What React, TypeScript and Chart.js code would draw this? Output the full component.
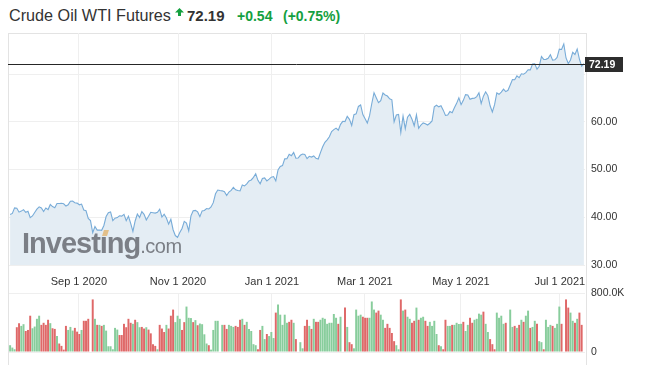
import React, { useEffect, useRef } from 'react';
import { Chart, registerables } from 'chart.js';

Chart.register(...registerables);

// ---------- header text ----------
const TITLE = 'Crude Oil WTI Futures';
const LAST_LABEL = '72.19';
const CHANGE = '+0.54';
const CHANGE_PCT = '(+0.75%)';

// ---------- daily series (Jul 17 2020 -> Jul 16 2021, trading days incl. holidays) ----------
const prices: number[] = [
  40.59,
  40.81, 41.96, 41.90, 41.07, 41.29,
  41.60, 41.04, 41.27, 39.92, 40.27,
  41.01, 41.70, 42.19, 41.95, 41.22,
  41.94, 41.61, 42.67, 42.24, 42.01,
  42.89, 42.89, 42.93, 42.82, 42.34,
  42.62, 43.35, 43.39, 43.04, 42.97,
  42.61, 42.76, 41.51, 41.37, 39.77,
  39.30, 36.76, 38.05, 37.30, 37.33,
  37.26, 38.28, 40.16, 40.97, 41.11,
  39.31, 39.80, 39.93, 40.31, 40.25,
  40.60, 39.29, 40.22, 38.72, 37.05,
  39.22, 40.67, 39.95, 41.19, 40.60,
  39.43, 40.20, 41.04, 40.96, 40.88,
  41.06, 41.70, 40.03, 40.64, 39.85,
  38.56, 39.57, 37.39, 36.17, 35.79,
  36.81, 37.66, 39.15, 38.79, 37.14,
  40.29, 41.36, 41.45, 41.12, 40.13,
  41.34, 41.43, 41.82, 41.74, 42.15,
  43.06, 44.91, 45.71, 45.60, 45.53,
  45.34, 44.55, 45.28, 45.64, 46.26,
  45.76, 45.60, 45.52, 46.78, 46.57,
  46.99, 47.62, 47.82, 48.36, 49.10,
  47.74, 47.02, 48.12, 48.23,
  47.62, 48.00, 48.40, 48.52,
  47.62, 49.93, 50.63, 50.83, 52.24,
  52.25, 53.21, 52.91, 53.57, 52.36,
  52.40, 52.98, 53.24, 53.13, 52.27,
  52.77, 52.61, 52.85, 52.34, 52.20,
  53.55, 54.76, 55.69, 56.23, 56.85,
  57.97, 58.36, 58.68, 58.24, 59.47,
  60.10, 60.05, 61.14, 60.52, 59.24,
  61.49, 61.67, 63.22, 63.53, 61.50,
  60.64, 59.75, 61.28, 63.83, 66.09,
  65.05, 64.01, 64.44, 66.02, 65.61,
  65.39, 64.80, 64.60, 60.00, 61.42,
  61.55, 57.76, 61.18, 58.56, 60.97,
  61.56, 60.55, 59.16, 61.45,
  58.65, 59.33, 59.77, 59.60, 59.32,
  59.70, 60.18, 63.15, 63.46, 63.13,
  63.38, 62.44, 61.35, 61.43, 62.14,
  61.91, 62.94, 63.86, 65.01, 63.58,
  64.49, 65.69, 65.63, 64.71, 64.90,
  64.92, 65.28, 66.08, 63.82, 65.37,
  66.27, 65.49, 63.36, 62.05, 63.58,
  66.05, 65.76, 66.21, 66.85, 66.32,
  66.60, 67.72, 68.83, 68.81, 69.62,
  69.23, 70.05, 69.96, 70.29, 70.91,
  70.88, 72.12, 72.15, 71.04, 71.64,
  73.66, 73.06, 73.08, 73.30, 74.05,
  72.91, 72.98, 73.47, 75.23, 75.16,
  76.30, 73.37, 72.20, 72.94, 74.56,
  74.10, 75.25, 73.13, 71.65, 72.19,
];

// volume in thousands
const volumesK: number[] = [
  92, 60, 37, 336, 390, 354, 377, 285, 299, 492,
  322, 345, 450, 492, 368, 396, 368, 437, 391, 322,
  313, 216, 115, 83, 32, 354, 299, 340, 290, 327,
  276, 244, 299, 423, 423, 450, 0, 713, 450, 368,
  368, 354, 368, 290, 78, 78, 37, 327, 304, 230,
  230, 382, 336, 450, 396, 382, 437, 405, 336, 340,
  318, 336, 304, 253, 106, 83, 37, 368, 318, 271,
  368, 318, 492, 575, 405, 492, 450, 299, 405, 616,
  464, 460, 405, 432, 363, 386,
  377, 240, 115, 92, 32, 299, 423, 423, 0, 368,
  368, 313, 368, 354, 340, 354, 340, 437, 450, 368,
  409, 313, 285, 106, 92, 37, 299, 354, 175, 244,
  216, 271, 189, 534, 644, 506, 368, 506, 396, 409,
  437, 396, 175, 0, 133, 50, 354, 437, 354, 313,
  450, 409, 409, 437, 464, 450, 382, 396, 396, 515,
  464, 382, 478, 0, 602, 340, 133, 106, 50, 575,
  492, 506, 478, 464, 464, 464, 685, 575, 534, 561,
  506, 437, 327, 382, 327, 258, 147,
  92, 37, 713, 561, 575, 478, 450, 396, 423, 602,
  437, 464, 478, 423, 354, 409, 354, 423, 244, 92,
  78, 37, 437, 354, 354, 368, 368, 396, 380, 382, 409,
  285, 368, 464, 396, 437, 450, 520, 506, 547, 382,
  271, 175, 106, 37, 534, 464, 492, 382, 396, 0,
  575, 340, 354, 327, 368, 437, 409, 492, 561, 327,
  340, 423, 382, 147, 133, 37, 437, 340, 368, 354,
  327, 382, 616, 382, 0, 713, 602, 534, 423, 396,
  450, 534, 368, 0,
];

// 1 = up day (green), 0 = down day (red)
const volumeUp: number[] = [
  1, 1, 1, 0, 0, 1, 1, 0, 0, 0,
  1, 1, 1, 1, 0, 0, 0, 0, 1, 0,
  0, 1, 0, 0, 0, 0, 1, 1, 1, 0,
  0, 0, 1, 0, 0, 0, 1, 0, 1, 0,
  1, 0, 1, 1, 1, 1, 1, 1, 1, 0,
  0, 0, 0, 0, 0, 1, 0, 1, 1, 0,
  0, 1, 0, 0, 0, 0, 1, 0, 0, 0,
  1, 0, 0, 0, 1, 1, 1, 0, 0, 1,
  1, 1, 0, 1, 0, 1,
  1, 1, 1, 0, 1, 1, 1, 1, 1, 1,
  0, 0, 1, 1, 1, 0, 0, 0, 1, 0,
  1, 1, 1, 1, 1, 0, 0, 1, 1, 0,
  1, 1, 1, 0, 1, 1, 1, 1, 1, 0,
  0, 1, 0, 1, 1, 1, 0, 0, 1, 0,
  1, 0, 0, 1, 1, 1, 1, 1, 1, 1,
  1, 0, 1, 1, 0, 1, 0, 0, 1, 1,
  1, 1, 0, 0, 0, 1, 1, 1, 0, 0,
  1, 1, 0, 0, 0, 0, 0,
  1, 1, 0, 1, 0, 1, 1, 0, 0, 1,
  0, 1, 1, 0, 0, 1, 1, 1, 1, 0,
  1, 0, 0, 1, 1, 0, 1, 1, 1, 1, 0,
  1, 1, 0, 0, 1, 1, 1, 1, 0, 1,
  1, 0, 0, 0, 1, 1, 1, 1, 0, 1,
  1, 1, 0, 1, 0, 1, 0, 1, 1, 0,
  1, 1, 0, 1, 1, 0, 1, 1, 1, 0,
  1, 1, 1, 0, 1, 0, 0, 1, 1, 0,
  1, 0, 0, 1,
];

// ---------- axes ----------
const xTickPositions: number[] = [30.8, 75.2, 117.3, 158.9, 201.9, 246.2];
const xTickLabels: string[] = ['Sep 1 2020', 'Nov 1 2020', 'Jan 1 2021', 'Mar 1 2021', 'May 1 2021', 'Jul 1 2021'];
const priceTicks: number[] = [30, 40, 50, 60, 70];
const hiddenPriceTick = 70;
const priceMin = 30;
const priceMax = 78.6;
const volumeTicksK: number[] = [0, 800];

const FONT = '"Liberation Sans", Arial, Helvetica, sans-serif';
const GREEN_TEXT = '#14a03f';

const zeroPad = (s: any) => {
  s.paddingTop = 0;
  s.paddingBottom = 0;
  s.paddingLeft = 0;
  s.paddingRight = 0;
};

export default function App() {
  const priceRef = useRef<HTMLCanvasElement>(null);
  const volRef = useRef<HTMLCanvasElement>(null);

  useEffect(() => {
    const n = prices.length;
    const xMin = -0.5;
    const xMax = n - 0.5;
    const gridColor = '#efefef';
    const lastValue = prices[n - 1];

    const setXTicks = (scale: any) => {
      scale.ticks = xTickPositions.map((v) => ({ value: v }));
    };

    const lastPricePlugin = {
      id: 'lastPrice',
      afterDatasetsDraw(chart: any) {
        const { ctx, chartArea, scales } = chart;
        const y = Math.round(scales.y.getPixelForValue(lastValue)) + 0.5;
        ctx.save();
        ctx.strokeStyle = '#262626';
        ctx.lineWidth = 1;
        ctx.beginPath();
        ctx.moveTo(chartArea.left - 1, y);
        ctx.lineTo(chartArea.right, y);
        ctx.stroke();
        ctx.fillStyle = '#2d2d2d';
        ctx.fillRect(chartArea.right, y - 7.5, 38, 15);
        ctx.fillStyle = '#ffffff';
        ctx.font = `bold 10.5px ${FONT}`;
        ctx.textBaseline = 'middle';
        ctx.textAlign = 'left';
        ctx.fillText(LAST_LABEL, chartArea.right + 4, y + 0.5);
        ctx.restore();
      },
    };

    const priceChart = new Chart(priceRef.current as HTMLCanvasElement, {
      type: 'line',
      data: {
        datasets: [
          {
            data: prices.map((p, i) => ({ x: i, y: p })),
            borderColor: '#78acd8',
            borderWidth: 1.1,
            backgroundColor: '#e4edf4',
            fill: 'start',
            pointRadius: 0,
            tension: 0,
          },
        ],
      },
      options: {
        animation: false,
        responsive: false,
        events: [],
        layout: { padding: { left: 9, top: 0, right: 0, bottom: 0 } },
        plugins: { legend: { display: false }, tooltip: { enabled: false } },
        scales: {
          x: {
            type: 'linear',
            min: xMin,
            max: xMax,
            border: { display: false },
            grid: { color: gridColor, drawTicks: false },
            afterBuildTicks: setXTicks,
            afterFit: (s: any) => {
              s.height = 28;
              zeroPad(s);
            },
            ticks: {
              padding: 10,
              autoSkip: false,
              maxRotation: 0,
              color: '#333',
              font: { family: FONT, size: 11 },
              callback: (_v: any, i: number) => xTickLabels[i],
            },
          },
          y: {
            position: 'right',
            min: priceMin,
            max: priceMax,
            border: { display: false },
            grid: { color: gridColor, drawTicks: false },
            afterBuildTicks: (s: any) => {
              s.ticks = priceTicks.map((v) => ({ value: v }));
            },
            afterFit: (s: any) => {
              s.width = 61;
              zeroPad(s);
            },
            ticks: {
              padding: 6,
              color: '#333',
              font: { family: FONT, size: 10.5 },
              callback: (v: any) => (v === hiddenPriceTick ? '' : Number(v).toFixed(2)),
            },
          },
        },
      },
      plugins: [lastPricePlugin],
    } as any);

    const volChart = new Chart(volRef.current as HTMLCanvasElement, {
      type: 'bar',
      data: {
        datasets: [
          {
            data: volumesK.map((v, i) => ({ x: i, y: v * 1000 })),
            backgroundColor: volumeUp.map((u) => (u ? '#88cd9c' : '#df6868')),
            borderWidth: 0,
            barPercentage: 0.88,
            categoryPercentage: 1,
          },
        ],
      },
      options: {
        animation: false,
        responsive: false,
        events: [],
        layout: { padding: { left: 9, top: 13, right: 0, bottom: 0 } },
        plugins: { legend: { display: false }, tooltip: { enabled: false } },
        scales: {
          x: {
            type: 'linear',
            min: xMin,
            max: xMax,
            offset: false,
            border: { display: false },
            grid: { color: gridColor, drawTicks: false, offset: false },
            afterBuildTicks: setXTicks,
            afterFit: (s: any) => {
              s.height = 13;
              zeroPad(s);
            },
            ticks: { display: false },
          },
          y: {
            position: 'right',
            min: 0,
            max: 800000,
            border: { display: false },
            grid: { color: gridColor, drawTicks: false },
            afterBuildTicks: (s: any) => {
              s.ticks = volumeTicksK.map((v) => ({ value: v * 1000 }));
            },
            afterFit: (s: any) => {
              s.width = 61;
              zeroPad(s);
            },
            ticks: {
              padding: 6,
              color: '#333',
              font: { family: FONT, size: 10.5 },
              callback: (v: any) => (v === 0 ? '0' : (v / 1000).toFixed(1) + 'K'),
            },
          },
        },
      },
    } as any);

    return () => {
      priceChart.destroy();
      volChart.destroy();
    };
  }, []);

  return (
    <div
      style={{
        position: 'fixed',
        left: 0,
        top: 0,
        width: 646,
        height: 365,
        overflow: 'hidden',
        background: '#fff',
        fontFamily: FONT,
      }}
    >
      {/* frame */}
      <div
        style={{
          position: 'absolute',
          left: 8,
          top: 33,
          width: 579,
          height: 340,
          boxSizing: 'border-box',
          borderTop: '1px solid #e3e3e3',
          borderLeft: '1px solid #e3e3e3',
          borderRight: '1px solid #e3e3e3',
        }}
      />
      <canvas
        ref={priceRef}
        width={646}
        height={260}
        style={{ position: 'absolute', left: 0, top: 33, width: 646, height: 260, display: 'block' }}
      />
      <canvas
        ref={volRef}
        width={646}
        height={85}
        style={{ position: 'absolute', left: 0, top: 280, width: 646, height: 85, display: 'block' }}
      />

      {/* watermark */}
      <div
        style={{
          position: 'absolute',
          left: 22,
          top: 228,
          lineHeight: '30px',
          whiteSpace: 'nowrap',
          color: '#7b7f86',
          fontFamily: FONT,
        }}
      >
        <span style={{ fontWeight: 700, fontSize: 29, letterSpacing: -1 }}>{'Investı\u200Bng'}</span>
        <span style={{ fontWeight: 400, fontSize: 20, letterSpacing: -0.5 }}>.com</span>
      </div>
      <div
        style={{
          position: 'absolute',
          left: 103,
          top: 230,
          width: 5,
          height: 6,
          background: '#e3c08a',
          transform: 'skewX(-18deg)',
        }}
      />

      {/* header */}
      <div
        style={{
          position: 'absolute',
          left: 9,
          top: 5,
          fontSize: 16.2,
          lineHeight: '20px',
          color: '#333',
          whiteSpace: 'nowrap',
        }}
      >
        {TITLE}
      </div>
      <svg
        width={9}
        height={8}
        viewBox="0 0 9 8"
        style={{ position: 'absolute', left: 175, top: 8 }}
      >
        <polygon points="4.5,0 9,4.6 6,4.6 6,8 3,8 3,4.6 0,4.6" fill={GREEN_TEXT} />
      </svg>
      <div
        style={{
          position: 'absolute',
          left: 187,
          top: 6,
          fontSize: 15,
          fontWeight: 700,
          lineHeight: '20px',
          color: '#333',
          whiteSpace: 'nowrap',
        }}
      >
        {LAST_LABEL}
      </div>
      <div
        style={{
          position: 'absolute',
          left: 237,
          top: 6,
          fontSize: 14,
          fontWeight: 700,
          lineHeight: '20px',
          color: GREEN_TEXT,
          whiteSpace: 'nowrap',
        }}
      >
        {CHANGE}
      </div>
      <div
        style={{
          position: 'absolute',
          left: 283,
          top: 6,
          fontSize: 14,
          fontWeight: 700,
          lineHeight: '20px',
          color: GREEN_TEXT,
          whiteSpace: 'nowrap',
        }}
      >
        {CHANGE_PCT}
      </div>
    </div>
  );
}
